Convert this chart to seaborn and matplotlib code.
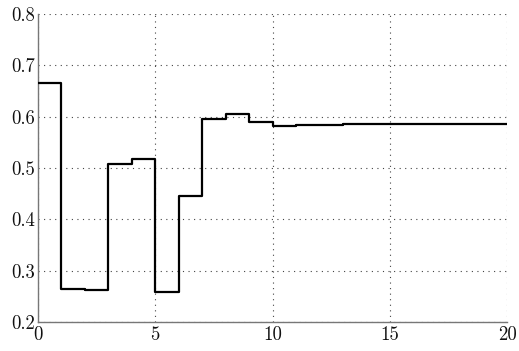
import matplotlib
matplotlib.use("Agg")
import matplotlib.pyplot as plt
import seaborn as sns
import pandas as pd

# Iteration index and estimated value at each step
iterations = list(range(21))
values = [0.666, 0.264, 0.262, 0.507, 0.518, 0.258, 0.446, 0.596, 0.605,
          0.590, 0.582, 0.583, 0.584, 0.585, 0.585, 0.585, 0.585, 0.585,
          0.585, 0.585, 0.585]
x_ticks = [0, 5, 10, 15, 20]
y_ticks = [0.2, 0.3, 0.4, 0.5, 0.6, 0.7, 0.8]

sns.set_style("white")
plt.rcParams["font.family"] = ["cmr10", "DejaVu Serif"]
plt.rcParams["axes.formatter.use_mathtext"] = True
plt.rcParams["mathtext.fontset"] = "cm"

df = pd.DataFrame({"k": iterations, "v": values})

fig = plt.figure(figsize=(5.19, 3.51), dpi=100)
ax = fig.add_axes([0.0732, 0.0826, 0.9037, 0.8775])

sns.lineplot(data=df, x="k", y="v", ax=ax, color="black", linewidth=1.6,
             drawstyle="steps-post", zorder=3)

ax.set_xlim(0, 20)
ax.set_ylim(0.2, 0.8)
ax.set_xticks(x_ticks)
ax.set_yticks(y_ticks)
ax.set_xticklabels([str(t) for t in x_ticks])
ax.set_yticklabels([f"{t:.1f}" for t in y_ticks])
ax.set_xlabel("")
ax.set_ylabel("")

ax.grid(True, linestyle=(0, (1, 4)), color="#444444", linewidth=0.8)
for side in ("top", "right"):
    ax.spines[side].set_visible(False)
for side in ("left", "bottom"):
    ax.spines[side].set_color("#777777")
    ax.spines[side].set_linewidth(1.0)

ax.tick_params(axis="both", which="both", length=0, labelsize=13.5,
               colors="#111111")
ax.tick_params(axis="y", pad=2)
ax.tick_params(axis="x", pad=3)

fig.savefig("out.png", dpi=100)
